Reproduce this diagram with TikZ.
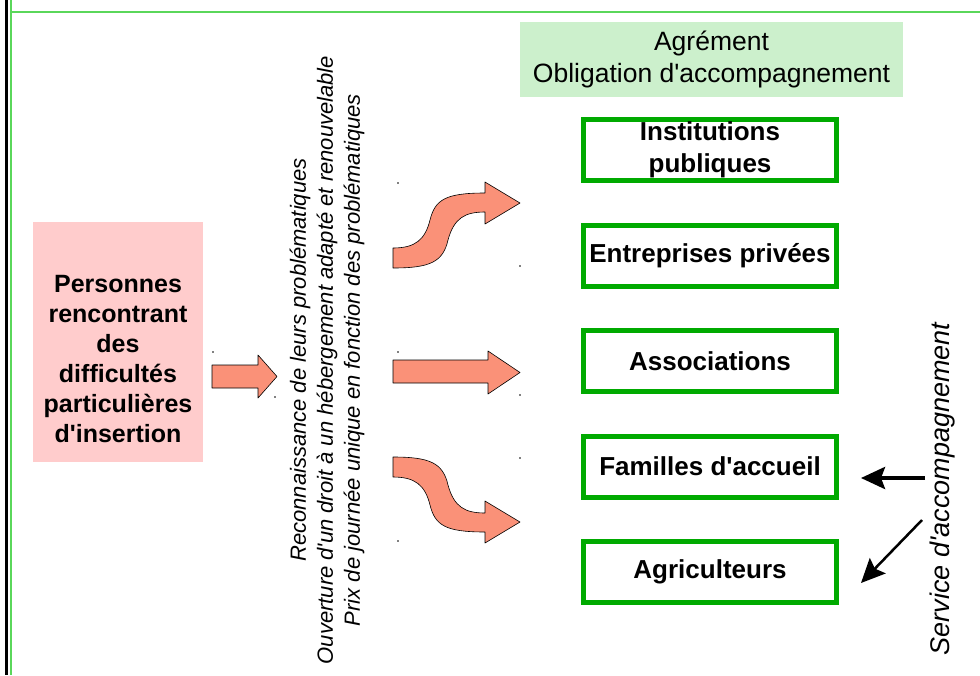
\documentclass[tikz,border=0pt]{standalone}
\usepackage{fontspec}
\setmainfont{Liberation Sans}[Ligatures=TeXOff]
\usetikzlibrary{positioning, arrows.meta}

\definecolor{vertcadre}{RGB}{0,170,0}
\definecolor{vertbord}{RGB}{90,215,90}
\definecolor{vertclair}{RGB}{204,240,204}
\definecolor{rose}{RGB}{255,204,204}
\definecolor{saumon}{RGB}{250,145,120}

\begin{document}
\begin{tikzpicture}[
            x=1pt, y=-1pt,
            node distance=39.5pt,
            structure/.style={
                    rectangle,
                    draw=vertcadre,
                    line width=5pt,
                    fill=white,
                    align=center,
                    font=\fontsize{26}{32}\selectfont\bfseries,
                    minimum width=253pt,
                    minimum height=61pt,
                    inner sep=0pt
                },
            personnes/.style={
                    rectangle,
                    fill=rose,
                    minimum width=170pt,
                    minimum height=240pt
                },
            agrement/.style={
                    rectangle,
                    fill=vertclair,
                    align=center,
                    font=\fontsize{26.5}{32}\selectfont,
                    minimum width=383pt,
                    minimum height=75pt
                },
            bloc/.style={
                    fill=saumon,
                    draw=black,
                    line width=0.6pt,
                    line join=round
                },
            repere/.style={
                    fill=black,
                    radius=0.9pt
                },
            fleche/.style={
                    draw=black,
                    -{Stealth[length=24pt, width=22pt, inset=4pt]}
                }
        ]
        \useasboundingbox (0,0) rectangle (980,675);

        % Cadre
        \draw[black, line width=3pt] (6.5,0) -- (6.5,675);
        \draw[vertbord, line width=2.5pt] (11,0) -- (11,675);
        \draw[vertbord, line width=2.5pt] (11,12) -- (980,12);

        % Public
        \node[personnes] (pers) at (118,342) {};
        \node[align=center, font=\fontsize{25}{30}\selectfont\bfseries] (perstxt)
            at ([yshift=-17pt]pers.center)
            {Personnes\\rencontrant\\des\\difficultés\\particulières\\d'insertion};

        % Droits ouverts
        \node[rotate=90, align=center, font=\fontsize{22}{27}\selectfont\itshape] (droits) at (327,360)
            {Reconnaissance de leurs problématiques\\
             Ouverture d'un droit à un hébergement adapté et renouvelable\\
             Prix de journée unique en fonction des problématiques};

        % Structures d'accueil
        \node[agrement] (agr) at (711.5,59.5) {Agrément\\Obligation d'accompagnement};
        \node[structure] (inst) at (710,150) {Institutions\\publiques};
        \node[structure, below=of inst] (entr) {Entreprises privées};
        \node[structure, below=of entr] (asso) {Associations};
        \node[structure, below=of asso] (fam) {Familles d'accueil};
        \node[structure, below=of fam] (agri) {Agriculteurs};

        \node[rotate=90, font=\fontsize{27}{32}\selectfont\itshape] (service) at (943,489) {Service d'accompagnement};

        % Fleches pleines
        \path[bloc] (212,365) -- (258,365) -- (258,355) -- (277,376.5) -- (258,398) -- (258,388) -- (212,388) -- cycle;
        \path[bloc] (393,248) -- (393,268)
            .. controls (430,268) and (443,262) .. (448,240)
            .. controls (454,218) and (465,212) .. (485,212)
            -- (485,224) -- (520,203) -- (485,182) -- (485,193)
            .. controls (445,193) and (435,200) .. (430,220)
            .. controls (425,240) and (415,248) .. (393,248) -- cycle;
        \path[bloc] (393,360) -- (488,360) -- (488,351) -- (520,372.5) -- (488,394) -- (488,383) -- (393,383) -- cycle;
        \path[bloc] (393,477) -- (393,457)
            .. controls (430,457) and (443,463) .. (448,485)
            .. controls (454,507) and (465,513) .. (485,513)
            -- (485,501) -- (520,522) -- (485,543) -- (485,532)
            .. controls (445,532) and (435,525) .. (430,505)
            .. controls (425,485) and (415,477) .. (393,477) -- cycle;

        % Poignees
        \foreach \px/\py in {213/352, 275/397, 398/183, 520/266, 398/352, 520/395, 520/458, 398/541}
            \fill[repere] (\px,\py) circle;

        % Accompagnement
        \coordinate (s1) at (925,478);
        \coordinate (f1) at (861,478);
        \coordinate (s2) at (922,520);
        \coordinate (f2) at (861,583);
        \draw[fleche, line width=4pt] (s1) -- (f1);
        \draw[fleche, line width=2.5pt] (s2) -- (f2);
    \end{tikzpicture}
\end{document}
